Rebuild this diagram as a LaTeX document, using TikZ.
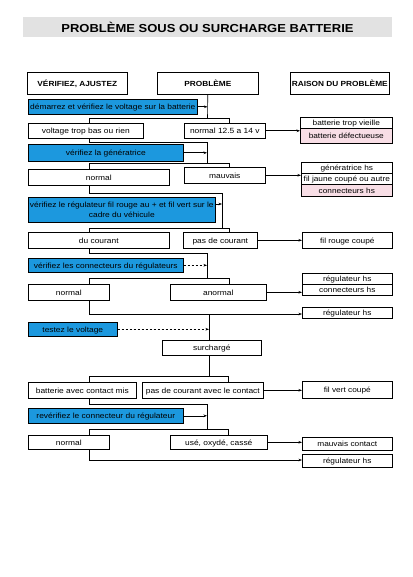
\documentclass[tikz,border=0pt]{standalone}
\usepackage{fontspec}
\setmainfont{Liberation Sans}[FakeStretch=1.12]
\usetikzlibrary{arrows.meta,calc}
\definecolor{actblue}{RGB}{28,152,222}
\definecolor{pinkbox}{RGB}{248,222,230}
\definecolor{titlegray}{RGB}{226,226,226}
\newcommand{\bxx}[7]{\node[#1,anchor=north west,minimum width={(#4-#2)*1pt},minimum height={(#5-#3)*1pt}] (#6) at (#2,#3) {#7};}
\tikzset{
  base/.style={draw=black,line width=0.6pt,inner sep=0pt,font=\fontsize{7.5}{8.6}\selectfont,text height=6pt,text depth=0pt},
  outbox/.style={base,fill=white},
  actbox/.style={base,fill=actblue},
  act2box/.style={draw=black,line width=0.6pt,inner sep=0pt,font=\fontsize{7.5}{9.2}\selectfont,align=center,fill=actblue},
  rsbox/.style={base,fill=white,font=\fontsize{7.4}{8.4}\selectfont},
  pkbox/.style={rsbox,fill=pinkbox},
  hdbox/.style={base,fill=white,font=\fontsize{7.4}{8.4}\selectfont\bfseries},
  ln/.style={line width=0.6pt},
  arr/.style={ln,-{Stealth[length=3.5pt,width=2.6pt]}},
  darr/.style={arr,dashed,dash pattern=on 2.5pt off 1.5pt}
}
\begin{document}
\begin{tikzpicture}[x=1pt,y=-1pt]
\useasboundingbox (0,0) rectangle (412,577);
% title
\fill[titlegray] (23,17) rectangle (392,37);
\node[font=\fontsize{11.6}{14}\selectfont\bfseries] (title) at (207.5,27.5) {PROBLÈME SOUS OU SURCHARGE BATTERIE};
% headers
\bxx{hdbox}{27}{72}{127}{94}{hV}{VÉRIFIEZ, AJUSTEZ}
\bxx{hdbox}{157}{72}{258}{94}{hP}{PROBLÈME}
\bxx{hdbox}{290}{72}{389}{94}{hR}{RAISON DU PROBLÈME}
% step 1
\bxx{actbox}{28}{99}{197}{114}{a1}{démarrez et vérifiez le voltage sur la batterie}
\bxx{outbox}{28}{123}{143}{138}{o1L}{voltage trop bas ou rien}
\bxx{outbox}{184}{123}{265}{138}{o1R}{normal 12.5 a 14 v}
\bxx{rsbox}{300}{117}{392}{128}{r1a}{batterie trop vieille}
\bxx{pkbox}{300}{128}{392}{143}{r1b}{batterie défectueuse}
% step 2
\bxx{actbox}{28}{144}{183}{161}{a2}{vérifiez la génératrice}
\bxx{outbox}{28}{169}{169}{185}{o2L}{normal}
\bxx{outbox}{184}{167}{265}{183}{o2R}{mauvais}
\bxx{rsbox}{301}{162}{392}{173}{r2a}{génératrice hs}
\bxx{rsbox}{301}{173}{392}{184}{r2b}{fil jaune coupé ou autre}
\bxx{pkbox}{301}{184}{392}{196}{r2c}{connecteurs hs}
% step 3
\bxx{act2box}{28}{197}{215}{222}{a3}{vérifiez le régulateur fil rouge au + et fil vert sur le\\cadre du véhicule}
\bxx{outbox}{28}{232}{169}{248}{o3L}{du courant}
\bxx{outbox}{183}{232}{257}{248}{o3R}{pas de courant}
\bxx{rsbox}{302}{232}{392}{248}{r3}{fil rouge coupé}
% step 4
\bxx{actbox}{28}{258}{183}{272}{a4}{vérifiez les connecteurs du régulateurs}
\bxx{outbox}{28}{284}{109}{300}{o4L}{normal}
\bxx{outbox}{170}{284}{266}{300}{o4R}{anormal}
\bxx{rsbox}{302}{273}{392}{284}{r4a}{régulateur hs}
\bxx{rsbox}{302}{284}{392}{295}{r4b}{connecteurs hs}
\bxx{rsbox}{302}{307}{392}{318}{r5}{régulateur hs}
% step 5
\bxx{actbox}{28}{322}{117}{336}{a5}{testez le voltage}
\bxx{outbox}{162}{340}{261}{355}{o5}{surchargé}
\bxx{outbox}{28}{382}{136}{398}{o6L}{batterie avec contact mis}
\bxx{outbox}{142}{382}{263}{398}{o6R}{pas de courant avec le contact}
\bxx{rsbox}{302}{381}{392}{398}{r6}{fil vert coupé}
% step 6
\bxx{actbox}{28}{408}{183}{423}{a6}{revérifiez le connecteur du régulateur}
\bxx{outbox}{28}{435}{109}{449}{o7L}{normal}
\bxx{outbox}{170}{435}{267}{449}{o7R}{usé, oxydé, cassé}
\bxx{rsbox}{302}{437}{392}{450}{r7a}{mauvais contact}
\bxx{rsbox}{302}{454}{392}{467}{r7b}{régulateur hs}
% ---- connectors step 1
\coordinate (j1) at (207.5,118);
\coordinate (j1L) at (89,118);
\coordinate (j1R) at (229,118);
\draw[ln] (hP.south) -- (j1);
\draw[ln] (j1L) -- (j1R);
\draw[ln] (j1L) -- (j1L |- o1L.north);
\draw[ln] (j1R) -- (j1R |- o1R.north);
\draw[arr] (a1.east) -- (a1.east -| j1);
\draw[arr] (o1R.east) -- (o1R.east -| r1b.west);
% step 2
\coordinate (k2) at (89,142);
\coordinate (j2) at (207,163);
\coordinate (j2L) at (89,163);
\coordinate (j2R) at (229,163);
\draw[ln] (o1L.south -| k2) -- (k2) -| (j2);
\draw[ln] (j2L) -- (j2R);
\draw[ln] (j2L) -- (j2L |- o2L.north);
\draw[ln] (j2R) -- (j2R |- o2R.north);
\draw[arr] (a2.east) -- (a2.east -| j2);
\draw[arr] (o2R.east) -- (o2R.east -| r2b.west);
% step 3
\coordinate (k3) at (89,193);
\coordinate (j3) at (222,228);
\coordinate (j3L) at (89,228);
\coordinate (j3R) at (229,228);
\draw[ln] (o2L.south -| k3) -- (k3) -| (j3);
\draw[ln] (j3L) -- (j3R);
\draw[ln] (j3L) -- (j3L |- o3L.north);
\draw[ln] (j3R) -- (j3R |- o3R.north);
\draw[arr] ([yshift=-7pt]a3.north east) -- ([yshift=-7pt]a3.north east -| j3);
\draw[arr] (o3R.east) -- (o3R.east -| r3.west);
% step 4
\coordinate (k4) at (89,253);
\coordinate (j4) at (207,278);
\coordinate (j4L) at (89,278);
\coordinate (j4R) at (229,278);
\draw[ln] (o3L.south -| k4) -- (k4) -| (j4);
\draw[ln] (j4L) -- (j4R);
\draw[ln] (j4L) -- (j4L |- o4L.north);
\draw[ln] (j4R) -- (j4R |- o4R.north);
\draw[darr] (a4.east) -- (a4.east -| j4);
\draw[arr] (o4R.east) -- (o4R.east -| r4b.west);
% step 5
\coordinate (k5) at (89,314);
\coordinate (t5) at (209,314);
\draw[arr] (o4L.south -| k5) -- (k5) -- (k5 -| r5.west);
\draw[ln] (t5) -- (t5 |- o5.north);
\draw[darr] (a5.east) -- (a5.east -| t5);
\coordinate (j6) at (209,376);
\coordinate (j6L) at (89,376);
\coordinate (j6R) at (228,376);
\draw[ln] (o5.south -| j6) -- (j6);
\draw[ln] (j6L) -- (j6R);
\draw[ln] (j6L) -- (j6L |- o6L.north);
\draw[ln] (j6R) -- (j6R |- o6R.north);
\draw[arr] (o6R.east) -- (o6R.east -| r6.west);
% step 6
\coordinate (k7) at (89,404);
\coordinate (j7) at (207,429);
\coordinate (j7L) at (89,429);
\coordinate (j7R) at (228,429);
\draw[ln] (o6L.south -| k7) -- (k7) -| (j7);
\draw[ln] (j7L) -- (j7R);
\draw[ln] (j7L) -- (j7L |- o7L.north);
\draw[ln] (j7R) -- (j7R |- o7R.north);
\draw[arr] (a6.east) -- (a6.east -| j7);
\draw[arr] (o7R.east) -- (o7R.east -| r7a.west);
\coordinate (k8) at (89,460);
\draw[arr] (o7L.south -| k8) -- (k8) -- (k8 -| r7b.west);
\end{tikzpicture}
\end{document}
